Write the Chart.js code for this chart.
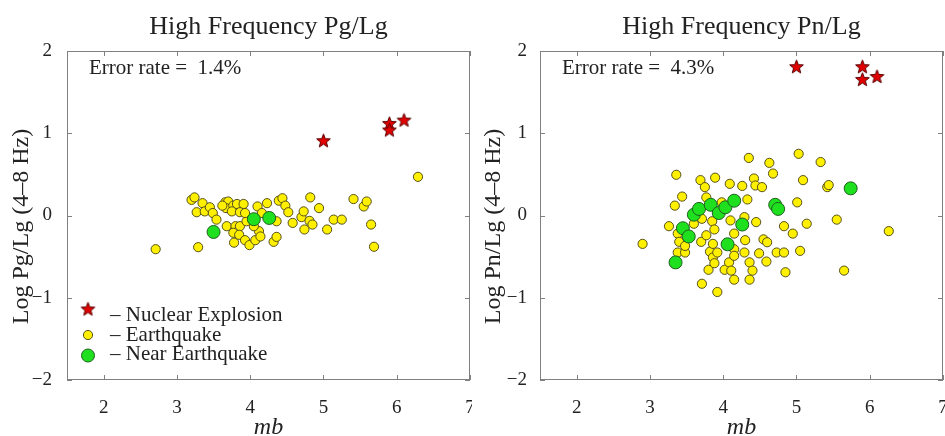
<!DOCTYPE html>
<html><head><meta charset="utf-8">
<script src="https://cdn.jsdelivr.net/npm/chart.js@4.4.1/dist/chart.umd.min.js"></script>
<style>
html,body{margin:0;padding:0;background:#fff;}
#wrap{position:relative;width:945px;height:436px;overflow:hidden;background:#fff;}
canvas{position:absolute;top:0;}
</style></head><body>
<div id="wrap">
<canvas id="c1" width="472" height="436" style="left:0px"></canvas>
<canvas id="c2" width="473" height="436" style="left:472px"></canvas>
</div>
<script>
// ---- tick labels ----
const xTickValues = [2, 3, 4, 5, 6, 7];
const xTickLabels = ['2', '3', '4', '5', '6', '7'];
const yTickValues = [-2, -1, 0, 1, 2];
const yTickLabels = ['\u22122', '\u22121', '0', '1', '2'];

// ---- Pg/Lg panel ----
const pgExplosionMb = [5.0, 5.9, 5.9, 6.1];
const pgExplosionVal = [0.91, 1.12, 1.04, 1.16];
const pgNearMb = [3.5, 4.05, 4.26];
const pgNearVal = [-0.20, -0.045, -0.03];
const pgQuakeMb = [2.71, 3.29, 3.20, 3.24, 3.35, 3.27, 3.38, 3.45, 3.49, 3.54, 3.66, 3.70, 3.67, 3.77, 3.82, 3.91, 3.75, 3.86, 3.68, 3.80,
  3.86, 3.77, 3.85, 3.78, 3.93, 3.99, 4.07, 4.12, 4.14, 3.95, 3.93, 4.10, 4.23, 4.16, 4.36, 4.39, 4.44, 4.48, 4.52, 4.32,
  4.36, 4.58, 4.70, 4.73, 4.82, 4.81, 4.85, 4.74, 4.94, 5.05, 5.14, 5.25, 5.41, 5.55, 5.59, 5.65, 5.69, 6.29, 4.05, 3.62];
const pgQuakeVal = [-0.41, -0.385, 0.19, 0.22, 0.15, 0.04, 0.05, 0.10, 0.03, -0.05, 0.16, 0.17, 0.09, 0.12, 0.14, 0.14, 0.05, 0.04, -0.13, -0.13,
  -0.13, -0.21, -0.235, -0.33, -0.30, -0.36, -0.30, -0.19, -0.255, -0.07, 0.03, 0.11, 0.15, 0.03, -0.07, 0.18, 0.21, 0.12, 0.04, -0.32,
  -0.26, -0.09, -0.02, 0.05, 0.22, -0.065, -0.11, -0.17, 0.09, -0.17, -0.05, -0.05, 0.20, 0.11, 0.17, -0.11, -0.38, 0.47, -0.13, 0.12];

// ---- Pn/Lg panel ----
const pnExplosionMb = [5.0, 5.9, 5.9, 6.1];
const pnExplosionVal = [1.81, 1.81, 1.655, 1.69];
const pnNearMb = [3.35, 3.45, 3.53, 3.60, 3.67, 3.83, 3.94, 4.03, 4.15, 4.06, 4.26, 4.71, 4.75, 5.74];
const pnNearVal = [-0.57, -0.155, -0.255, 0.01, 0.08, 0.13, 0.03, 0.10, 0.18, -0.35, -0.11, 0.13, 0.08, 0.33];
const pnQuakeMb = [2.90, 3.26, 3.36, 3.44, 3.34, 3.38, 3.40, 3.38, 3.48, 3.48, 3.60, 3.69, 3.75, 3.77, 3.71, 3.70, 3.77, 3.71, 3.80, 3.82,
  3.85, 3.88, 3.86, 3.86, 3.89, 3.92, 3.88, 3.92, 3.98, 4.02, 4.08, 4.09, 4.10, 4.11, 4.15, 4.15, 4.15, 4.15, 4.26, 4.29,
  4.30, 4.29, 4.33, 4.35, 4.36, 4.40, 4.36, 4.42, 4.44, 4.45, 4.49, 4.53, 4.55, 4.60, 4.59, 4.63, 4.68, 4.73, 4.83, 4.83,
  4.85, 4.95, 5.01, 5.03, 5.05, 5.09, 5.14, 5.33, 5.42, 5.44, 5.55, 5.65, 6.26];
const pnQuakeVal = [-0.345, -0.13, 0.495, 0.23, 0.12, -0.22, -0.32, -0.45, -0.45, -0.37, -0.10, 0.43, 0.345, 0.22, -0.04, -0.32, -0.24, -0.83, -0.66, -0.44,
  -0.07, -0.17, -0.345, -0.51, 0.46, -0.93, -0.58, -0.45, 0.16, -0.66, -0.57, 0.385, -0.06, -0.67, -0.78, -0.22, -0.41, -0.49, 0.36, -0.02,
  -0.30, -0.45, 0.195, 0.70, -0.57, -0.67, -0.78, 0.45, 0.365, -0.08, -0.46, 0.345, -0.29, -0.325, -0.56, 0.64, 0.51, -0.45, -0.45, -0.13,
  -0.69, -0.22, 0.16, 0.75, -0.43, 0.43, -0.10, 0.65, 0.345, 0.37, -0.05, -0.67, -0.19];

const SERIF = "'Liberation Serif', 'DejaVu Serif', serif";
const TXT = '#222222';
const FRAME = '#808080';

function pts(xs, ys) { return xs.map((x, i) => ({ x: x, y: ys[i] })); }

function makeStar(R, r, fill, stroke) {
  const c = document.createElement('canvas');
  const s = Math.ceil(2 * R + 4);
  c.width = s; c.height = s;
  const g = c.getContext('2d');
  g.beginPath();
  for (let i = 0; i < 10; i++) {
    const rad = i % 2 ? r : R;
    const a = -Math.PI / 2 + i * Math.PI / 5;
    g.lineTo(s / 2 + rad * Math.cos(a), s / 2 + 0.5 + rad * Math.sin(a));
  }
  g.closePath();
  g.fillStyle = fill; g.fill();
  g.lineWidth = 1; g.strokeStyle = stroke; g.stroke();
  return c;
}
const starImg = makeStar(7.2, 3.1, '#e00000', '#5a0000');

const framePlugin = {
  id: 'frame',
  beforeDatasetsDraw(chart) {
    const { ctx, chartArea: a, scales } = chart;
    ctx.save();
    ctx.strokeStyle = FRAME; ctx.lineWidth = 1;
    ctx.strokeRect(a.left + 0.5, a.top + 0.5, a.right - a.left - 1, a.bottom - a.top - 1);
    const L = 5;
    ctx.beginPath();
    xTickValues.forEach(v => {
      const px = Math.round(scales.x.getPixelForValue(v)) + 0.5;
      ctx.moveTo(px, a.top); ctx.lineTo(px, a.top + L);
      ctx.moveTo(px, a.bottom); ctx.lineTo(px, a.bottom - L);
    });
    yTickValues.forEach(v => {
      const py = Math.round(scales.y.getPixelForValue(v)) + 0.5;
      ctx.moveTo(a.left, py); ctx.lineTo(a.left + L, py);
      ctx.moveTo(a.right, py); ctx.lineTo(a.right - L, py);
    });
    ctx.stroke();
    ctx.restore();
  },
  afterDraw(chart) {
    const o = chart.options.plugins.frame;
    const { ctx, chartArea: a } = chart;
    ctx.save();
    ctx.fillStyle = TXT;
    // y axis title
    ctx.font = '24px ' + SERIF;
    ctx.textAlign = 'center'; ctx.textBaseline = 'middle';
    ctx.translate(22, (a.top + a.bottom) / 2 + 11);
    ctx.rotate(-Math.PI / 2);
    ctx.fillText(o.yTitle, 0, 0);
    ctx.restore();
    ctx.save();
    ctx.fillStyle = TXT;
    ctx.font = '21px ' + SERIF;
    ctx.textAlign = 'left'; ctx.textBaseline = 'middle';
    ctx.fillText(o.errorText, a.left + 22, a.top + 17);
    if (o.legend) {
      const ds = chart.data.datasets;
      const lx = a.left + 21, tx = a.left + 43;
      const rows = [a.top + 264, a.top + 284, a.top + 303.5];
      // star marker
      ctx.drawImage(starImg, lx - starImg.width / 2, rows[0] - 6 - starImg.height / 2);
      // circle markers
      [[ds[2], rows[1]], [ds[1], rows[2] + 1]].forEach(([d, y]) => {
        ctx.beginPath(); ctx.arc(lx, y, d.pointRadius, 0, Math.PI * 2);
        ctx.fillStyle = d.pointBackgroundColor; ctx.fill();
        ctx.lineWidth = d.pointBorderWidth; ctx.strokeStyle = d.pointBorderColor; ctx.stroke();
      });
      ctx.fillStyle = TXT;
      ctx.fillText('\u2013 ' + ds[0].label, tx, rows[0]);
      ctx.fillText('\u2013 ' + ds[2].label, tx, rows[1]);
      ctx.fillText('\u2013 ' + ds[1].label, tx, rows[2]);
    }
    ctx.restore();
  }
};

function makeChart(id, cfg) {
  return new Chart(document.getElementById(id), {
    type: 'scatter',
    data: {
      datasets: [
        { label: 'Nuclear Explosion', data: pts(cfg.exMb, cfg.exVal), pointStyle: starImg, pointRadius: 7 },
        { label: 'Near Earthquake', data: pts(cfg.nearMb, cfg.nearVal), pointRadius: 6.5,
          pointBackgroundColor: '#1fe01f', pointBorderColor: '#1d5e1d', pointBorderWidth: 1 },
        { label: 'Earthquake', data: pts(cfg.qMb, cfg.qVal), pointRadius: 4.6,
          pointBackgroundColor: '#fff000', pointBorderColor: '#55501a', pointBorderWidth: 1 }
      ]
    },
    options: {
      responsive: false, animation: false, events: [],
      devicePixelRatio: 1,
      layout: { autoPadding: false, padding: { left: 0, right: 2, top: 0, bottom: 0 } },
      plugins: {
        legend: { display: false }, tooltip: { enabled: false },
        title: { display: true, text: cfg.title, fullSize: false, color: TXT,
          font: { family: SERIF, size: 26, weight: 'normal' }, padding: { top: 11.4, bottom: 8.4 } },
        frame: { yTitle: cfg.yTitle, errorText: cfg.errorText, legend: cfg.legend }
      },
      scales: {
        x: {
          type: 'linear', min: 1.5, max: 7,
          afterBuildTicks: s => { s.ticks = xTickValues.map(v => ({ value: v })); },
          afterFit: s => { s.height = 56; s.paddingLeft = 0; s.paddingRight = 0; },
          grid: { display: false }, border: { display: false },
          ticks: { padding: 8.6, color: TXT, maxRotation: 0, autoSkip: false,
            font: { family: SERIF, size: 19 },
            callback: v => xTickLabels[xTickValues.indexOf(v)] },
          title: { display: true, text: 'mb', color: TXT,
            font: { family: SERIF, size: 24, style: 'italic' }, padding: { top: 0, bottom: -6.4 } }
        },
        y: {
          type: 'linear', min: -2, max: 2,
          afterBuildTicks: s => { s.ticks = yTickValues.map(v => ({ value: v })); },
          afterFit: s => { s.width = cfg.yWidth; s.paddingTop = 0; s.paddingBottom = 0; },
          grid: { display: false }, border: { display: false },
          ticks: { padding: cfg.yPad, color: TXT, autoSkip: false,
            font: { family: SERIF, size: 19 },
            callback: v => yTickLabels[yTickValues.indexOf(v)] }
        }
      }
    },
    plugins: [framePlugin]
  });
}

makeChart('c1', { title: 'High Frequency Pg/Lg', yTitle: 'Log Pg/Lg (4\u20138 Hz)', errorText: 'Error rate =  1.4%',
  legend: true, yWidth: 67, yPad: 7,
  exMb: pgExplosionMb, exVal: pgExplosionVal, nearMb: pgNearMb, nearVal: pgNearVal, qMb: pgQuakeMb, qVal: pgQuakeVal });
makeChart('c2', { title: 'High Frequency Pn/Lg', yTitle: 'Log Pn/Lg (4\u20138 Hz)', errorText: 'Error rate =  4.3%',
  legend: false, yWidth: 68, yPad: 5,
  exMb: pnExplosionMb, exVal: pnExplosionVal, nearMb: pnNearMb, nearVal: pnNearVal, qMb: pnQuakeMb, qVal: pnQuakeVal });
</script>
</body></html>
